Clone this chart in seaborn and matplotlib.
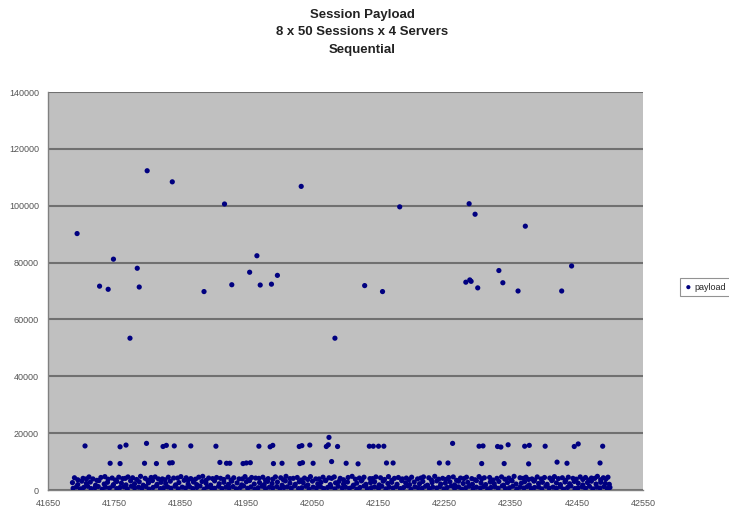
import matplotlib
matplotlib.use('Agg')
import matplotlib.pyplot as plt
import seaborn as sns
import pandas as pd

# outliers (session id, payload)
high_x = [41694, 41728, 41741, 41749, 41774, 41785, 41788, 41800, 41838, 41886,
          41917, 41928, 41955, 41966, 41971, 41988, 41997, 42033, 42084, 42129,
          42156, 42182, 42282, 42287, 42288, 42290, 42296, 42300, 42332, 42338,
          42361, 42372, 42427, 42442]
high_y = [90200, 71700, 70600, 81200, 53400, 78000, 71400, 112300, 108400, 69800,
          100600, 72200, 76600, 82400, 72100, 72400, 75500, 106800, 53400, 71900,
          69800, 99600, 73100, 100700, 73900, 73400, 97000, 71100, 77200, 72900,
          70000, 92800, 70000, 78800]

# ~15k band
band15_x = [41706, 41759, 41768, 41799, 41824, 41829, 41841, 41866, 41904, 41969,
            41986, 41990, 42030, 42034, 42046, 42071, 42074, 42075, 42088, 42136,
            42142, 42150, 42158, 42262, 42302, 42308, 42330, 42335, 42346, 42371,
            42378, 42402, 42446, 42452, 42489]
band15_y = [15500, 15200, 15800, 16400, 15300, 15700, 15500, 15500, 15400, 15400,
            15200, 15700, 15300, 15600, 15800, 15300, 15900, 18500, 15300, 15400,
            15400, 15400, 15400, 16400, 15400, 15500, 15300, 15100, 15900, 15400,
            15700, 15400, 15300, 16200, 15400]

# ~10k band
band10_x = [41744, 41759, 41796, 41814, 41834, 41838, 41910, 41920, 41925, 41945,
            41950, 41956, 41991, 42004, 42031, 42035, 42051, 42079, 42101, 42119,
            42162, 42172, 42242, 42255, 42306, 42340, 42377, 42420, 42435, 42485]
band10_y = [9400, 9300, 9400, 9300, 9500, 9600, 9700, 9400, 9400, 9300,
            9500, 9600, 9300, 9400, 9300, 9600, 9400, 10000, 9400, 9200,
            9500, 9500, 9500, 9500, 9300, 9300, 9200, 9800, 9400, 9500]

# upper row of the low band (~4-5k)
top_x = [41690, 41703, 41712, 41718, 41730, 41736, 41747, 41757, 41763, 41771,
         41778, 41790, 41797, 41806, 41812, 41823, 41832, 41840, 41851, 41859,
         41866, 41878, 41884, 41893, 41905, 41911, 41922, 41931, 41939, 41948,
         41958, 41964, 41975, 41983, 41994, 42002, 42010, 42021, 42027, 42038,
         42047, 42055, 42066, 42075, 42083, 42092, 42104, 42110, 42121, 42128,
         42137, 42146, 42153, 42165, 42174, 42180, 42192, 42200, 42209, 42218,
         42226, 42235, 42247, 42256, 42263, 42274, 42283, 42291, 42302, 42310,
         42318, 42329, 42336, 42347, 42355, 42364, 42373, 42382, 42390, 42401,
         42409, 42416, 42428, 42437, 42444, 42455, 42463, 42472, 42481, 42490,
         42497]
top_y = [4300, 4100, 4600, 3900, 4400, 4700, 4200, 4500, 4000, 4600,
         4300, 4800, 4100, 4400, 4600, 3900, 4500, 4200, 4700, 4300,
         4000, 4500, 4800, 4200, 4400, 4100, 4600, 4300, 3900, 4700,
         4400, 4200, 4500, 4000, 4600, 4300, 4800, 4100, 4400, 4200,
         4700, 3900, 4500, 4300, 4600, 4100, 4400, 4800, 4200, 4500,
         4000, 4600, 4300, 4700, 4100, 4400, 4200, 4500, 3900, 4600,
         4300, 4800, 4100, 4400, 4600, 4200, 4500, 4000, 4700, 4300,
         4400, 4100, 4600, 4200, 4800, 4300, 4500, 3900, 4600, 4400,
         4200, 4700, 4300, 4500, 4100, 4600, 4400, 4200, 4800, 4300,
         4500]

# second row just under it (~3.3-4.2k)
top2_x = [41695, 41708, 41724, 41741, 41752, 41767, 41784, 41801, 41817, 41827,
          41846, 41862, 41873, 41889, 41899, 41916, 41927, 41944, 41953, 41969,
          41979, 41990, 42006, 42016, 42033, 42043, 42060, 42070, 42079, 42097,
          42115, 42125, 42141, 42159, 42170, 42186, 42196, 42214, 42230, 42241,
          42252, 42268, 42279, 42296, 42306, 42323, 42341, 42351, 42369, 42377,
          42386, 42396, 42413, 42422, 42433, 42449, 42459, 42468, 42477, 42486,
          42494]
top2_y = [3600, 3900, 3400, 3800, 3500, 4100, 3700, 3400, 3900, 3600,
          4200, 3500, 3800, 3400, 4000, 3700, 3500, 3900, 3600, 4100,
          3400, 3800, 3600, 4000, 3500, 3700, 3900, 3400, 4100, 3600,
          3800, 3500, 4000, 3700, 3400, 3900, 3600, 4200, 3500, 3800,
          3700, 3400, 4000, 3600, 3900, 3500, 3800, 3400, 4100, 3700,
          3500, 3900, 3600, 4000, 3400, 3800, 3700, 3500, 4100, 3600,
          3900]

# middle scatter of the low band (~2-3.5k)
mid_x = [41687, 41695, 41701, 41708, 41714, 41722, 41727, 41735, 41740, 41749,
         41754, 41761, 41768, 41775, 41781, 41788, 41794, 41802, 41808, 41815,
         41821, 41828, 41835, 41843, 41848, 41856, 41862, 41870, 41875, 41883,
         41889, 41896, 41902, 41909, 41916, 41923, 41928, 41936, 41943, 41950,
         41955, 41962, 41970, 41977, 41982, 41989, 41997, 42004, 42009, 42016,
         42024, 42030, 42036, 42043, 42050, 42058, 42063, 42070, 42077, 42085,
         42090, 42097, 42103, 42112, 42117, 42124, 42131, 42138, 42144, 42151,
         42157, 42164, 42170, 42178, 42185, 42191, 42197, 42204, 42212, 42217,
         42224, 42231, 42238, 42244, 42251, 42258, 42265, 42271, 42278, 42285,
         42292, 42298, 42305, 42312, 42319, 42325, 42332, 42339, 42345, 42352,
         42358, 42366, 42371, 42378, 42385, 42392, 42398, 42405, 42412, 42419,
         42425, 42432, 42439, 42446, 42452, 42459, 42466, 42472, 42479, 42486,
         42493, 42499]
mid_y = [2600, 1900, 3100, 2300, 2800, 1700, 3300, 2100, 2700, 1900,
         3000, 2400, 1800, 3200, 2200, 2900, 1700, 2500, 3300, 2000,
         2700, 2300, 3100, 1800, 2600, 3400, 2100, 2800, 1900, 3000,
         2400, 1700, 3200, 2200, 2700, 2000, 3100, 2500, 1800, 2900,
         3300, 2100, 2600, 1900, 3000, 2300, 2800, 1700, 3200, 2400,
         2000, 2900, 2600, 1800, 3100, 2200, 2700, 3300, 1900, 2500,
         3000, 2100, 2800, 1700, 2400, 3200, 2000, 2600, 2900, 1800,
         3100, 2300, 2700, 2000, 3300, 2500, 1900, 2800, 2200, 3000,
         1700, 2600, 3200, 2100, 2400, 2900, 1800, 3100, 2300, 2700,
         2000, 3300, 2500, 1900, 2800, 2200, 3000, 1700, 2600, 3200,
         2100, 2400, 2900, 1800, 3100, 2300, 2700, 2000, 3300, 2500,
         1900, 2800, 2200, 3000, 2400, 1800, 2600, 3100, 2100, 2700,
         2300, 2000]

# baseline of the low band (~0.3-1.4k)
base_x = [41688, 41693, 41699, 41704, 41710, 41715, 41721, 41726, 41732, 41737,
          41743, 41748, 41754, 41759, 41765, 41770, 41776, 41781, 41787, 41792,
          41798, 41803, 41809, 41814, 41820, 41825, 41831, 41836, 41842, 41847,
          41853, 41858, 41864, 41869, 41875, 41880, 41886, 41891, 41897, 41902,
          41908, 41913, 41919, 41924, 41930, 41935, 41941, 41946, 41952, 41957,
          41963, 41968, 41974, 41979, 41985, 41990, 41996, 42001, 42007, 42012,
          42018, 42023, 42029, 42034, 42040, 42045, 42051, 42056, 42062, 42067,
          42073, 42078, 42084, 42089, 42095, 42100, 42106, 42111, 42117, 42122,
          42128, 42133, 42139, 42144, 42150, 42155, 42161, 42166, 42172, 42177,
          42183, 42188, 42194, 42199, 42205, 42210, 42216, 42221, 42227, 42232,
          42238, 42243, 42249, 42254, 42260, 42265, 42271, 42276, 42282, 42287,
          42293, 42298, 42304, 42309, 42315, 42320, 42326, 42331, 42337, 42342,
          42348, 42353, 42359, 42364, 42370, 42375, 42381, 42386, 42392, 42397,
          42403, 42408, 42414, 42419, 42425, 42430, 42436, 42441, 42447, 42452,
          42458, 42463, 42469, 42474, 42480, 42485, 42491, 42496, 42500]
base_y = [600, 1100, 400, 900, 1300, 500, 800, 1200, 300, 1000,
          700, 1400, 500, 900, 1100, 400, 1300, 700, 1000, 600,
          1200, 300, 900, 1400, 500, 800, 1100, 600, 1300, 400,
          1000, 700, 1200, 500, 900, 1400, 300, 1100, 800, 600,
          1300, 500, 1000, 700, 1200, 400, 900, 1400, 600, 1100,
          300, 800, 1300, 500, 1000, 700, 1200, 400, 900, 1100,
          600, 1400, 500, 800, 1300, 300, 1000, 700, 1200, 500,
          900, 1100, 400, 1300, 700, 1000, 600, 1200, 300, 900,
          1400, 500, 800, 1100, 600, 1300, 400, 1000, 700, 1200,
          500, 900, 1400, 300, 1100, 800, 600, 1300, 500, 1000,
          700, 1200, 400, 900, 1400, 600, 1100, 300, 800, 1300,
          500, 1000, 700, 1200, 400, 900, 1100, 600, 1400, 500,
          800, 1300, 300, 1000, 700, 1200, 500, 900, 1100, 400,
          1300, 700, 1000, 600, 1200, 300, 900, 1400, 500, 800,
          1100, 600, 1300, 400, 1000, 700, 1200, 500, 900]

x_ticks = [41650, 41750, 41850, 41950, 42050, 42150, 42250, 42350, 42450, 42550]
y_ticks = [0, 20000, 40000, 60000, 80000, 100000, 120000, 140000]

df = pd.DataFrame({
    'session': base_x + mid_x + top2_x + top_x + band10_x + band15_x + high_x,
    'payload': base_y + mid_y + top2_y + top_y + band10_y + band15_y + high_y,
})

sns.set_style('white')
plt.rcParams['font.family'] = ['Liberation Sans', 'DejaVu Sans']

fig = plt.figure(figsize=(7.29, 5.19), dpi=100)
ax = fig.add_axes([48 / 729, 1 - 490 / 519, 595 / 729, 398 / 519])
ax.set_facecolor('#c0c0c0')

sns.scatterplot(data=df, x='session', y='payload', ax=ax, color='#000080',
                s=14, edgecolor='none', label='payload', zorder=3)

ax.set_xlim(41650, 42550)
ax.set_ylim(0, 140000)
ax.set_xticks(x_ticks)
ax.set_yticks(y_ticks)
ax.set_xticklabels([str(t) for t in x_ticks])
ax.set_yticklabels([str(t) for t in y_ticks])
ax.tick_params(axis='both', labelsize=6.5, colors='#555555', length=3,
               direction='out', width=0.8)
ax.set_xlabel('')
ax.set_ylabel('')

ax.yaxis.grid(True, color='#707070', linewidth=1.5)
ax.set_axisbelow(True)
for side in ['top', 'right']:
    ax.spines[side].set_visible(False)
for side in ['left', 'bottom']:
    ax.spines[side].set_color('#808080')
    ax.spines[side].set_linewidth(1.0)

fig.text(362 / 729, 1 - 9 / 519, 'Session Payload\n8 x 50 Sessions x 4 Servers\nSequential',
         ha='center', va='top', fontsize=9.5, fontweight='bold', linespacing=1.6,
         color='#222222')

leg = ax.legend(loc='center left', bbox_to_anchor=(1.055, 0.51), fontsize=6.5,
                frameon=True, fancybox=False, handletextpad=0.3, borderpad=0.5,
                markerscale=0.8, handlelength=0.8)
leg.get_frame().set_edgecolor('#777777')
leg.get_frame().set_linewidth(0.8)

fig.savefig('out.png', dpi=100)
